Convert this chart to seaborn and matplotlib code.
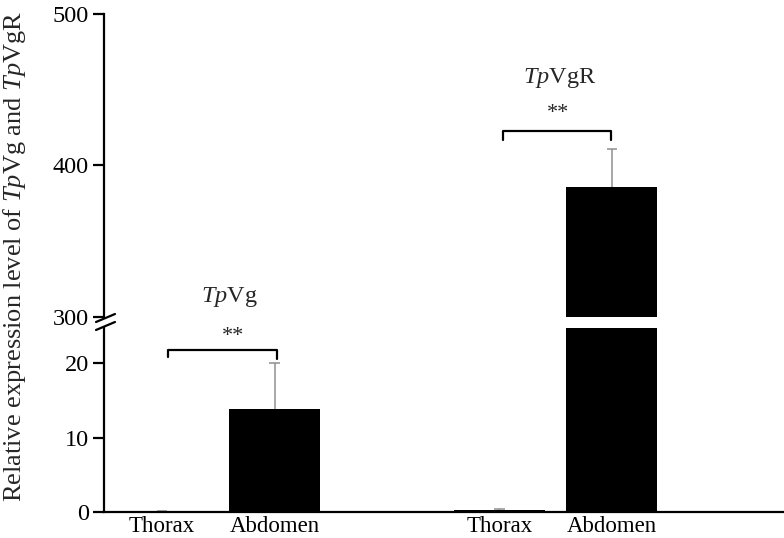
import matplotlib
matplotlib.use("Agg")
import matplotlib.pyplot as plt
import numpy as np
import pandas as pd
import seaborn as sns

sns.set_theme(style="ticks")
plt.rcParams['font.family'] = ['Liberation Serif', 'DejaVu Serif']
plt.rcParams['mathtext.fontset'] = 'custom'
plt.rcParams['mathtext.rm'] = 'Liberation Serif'
plt.rcParams['mathtext.it'] = 'Liberation Serif:italic'

# data
tissues = ["Thorax", "Abdomen", "Thorax", "Abdomen"]
positions = [0, 1, 3, 4]   # two groups: TpVg (0,1) and TpVgR (3,4)
means = [0.12, 13.8, 0.3, 386.0]
errors = [0.05, 6.2, 0.15, 25.0]
genes = ["$\\it{Tp}$Vg", "$\\it{Tp}$VgR"]

df = pd.DataFrame({"pos": positions, "val": means, "err": errors, "tissue": tissues})
df["top"] = df["val"] + df["err"]

fig = plt.figure(figsize=(7.84, 5.38), dpi=100)
ax_hi = fig.add_axes([0.1327, 0.4108, 0.8673, 0.5632])
ax_lo = fig.add_axes([0.1327, 0.0483, 0.8673, 0.3420])

for ax in (ax_hi, ax_lo):
    sns.barplot(data=df, x="pos", y="val", native_scale=True, width=0.81,
                color="black", saturation=1, errorbar=None, linewidth=0, ax=ax)
    # one-sided (upper) error bars with a cap only on top
    ax.vlines(df["pos"], df["val"], df["top"], color="#8f8f8f", lw=1.1)
    ax.hlines(df["top"], df["pos"] - 0.045, df["pos"] + 0.045, color="#8f8f8f", lw=1.1)
    ax.set_xlim(-0.516, 5.53)
    ax.set_xlabel("")
    ax.set_ylabel("")
    ax.spines["right"].set_visible(False)
    ax.spines["top"].set_visible(False)
    ax.spines["left"].set_linewidth(1.6)
    ax.spines["bottom"].set_linewidth(1.6)
    ax.spines["left"].set_color("black")
    ax.spines["bottom"].set_color("black")
    ax.tick_params(axis="y", direction="out", length=8, width=1.6, labelsize=17.5,
                   pad=3, colors="black")

ax_hi.set_ylim(300, 500)
ax_hi.set_yticks([300, 400, 500])
ax_hi.spines["bottom"].set_visible(False)
ax_hi.set_xticks([])

ax_lo.set_ylim(0, 24.7)
ax_lo.set_yticks([0, 10, 20])
ax_lo.set_xticks(positions)
ax_lo.set_xticklabels(tissues)
ax_lo.tick_params(axis="x", length=0, labelsize=16.5, pad=3, colors="black")

# break marks on the y axis
for yy in (322, 330):
    fig.add_artist(plt.Line2D([96 / 784, 115 / 784],
                              [1 - (yy) / 538, 1 - (yy - 8) / 538],
                              color="black", lw=1.6))

# significance brackets and gene labels
ax_lo.plot([0.053, 0.053, 1.02, 1.02], [20.8, 21.8, 21.8, 20.6], color="black", lw=1.6, clip_on=False)
ax_lo.text(0.63, 23.6, "**", ha="center", va="center", fontsize=16)
ax_lo.text(0.6, 28.9, genes[0], ha="center", va="center", fontsize=17.5)

ax_hi.plot([3.03, 3.03, 3.99, 3.99], [417, 423, 423, 417], color="black", lw=1.6, clip_on=False)
ax_hi.text(3.52, 434, "**", ha="center", va="center", fontsize=16)
ax_hi.text(3.54, 458, genes[1], ha="center", va="center", fontsize=17.5)

fig.text(0.019, 0.523, "Relative expression level of $\\it{Tp}$Vg and $\\it{Tp}$VgR",
         rotation=90, ha="center", va="center", fontsize=19)

fig.savefig("out.png", dpi=100)
